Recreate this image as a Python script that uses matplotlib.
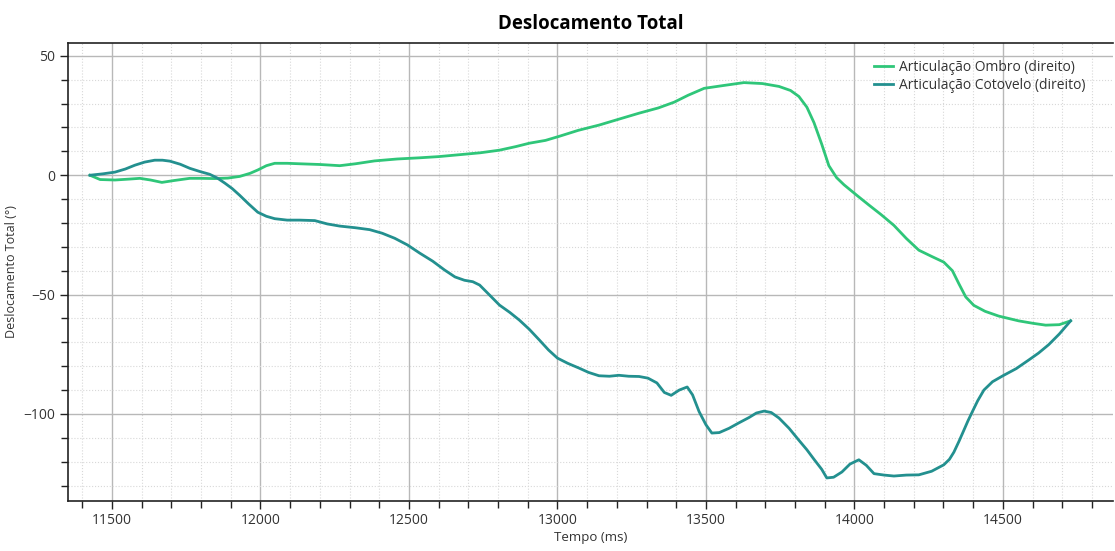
"""Deslocamento total das articulações (ombro e cotovelo direito) ao longo do tempo."""

import matplotlib

matplotlib.use("Agg")
import matplotlib.pyplot as plt
from matplotlib.ticker import MultipleLocator

plt.rcParams["font.family"] = ["Open Sans", "DejaVu Sans"]

ombro_t = [11426, 11460, 11510, 11560, 11594, 11630, 11668, 11710, 11762, 11800,
           11846, 11890, 11930, 11965, 11991, 12020, 12048, 12090, 12132, 12200,
           12267, 12320, 12384, 12460, 12536, 12600, 12670, 12740, 12805, 12860,
           12905, 12960, 13006, 13070, 13140, 13210, 13275, 13340, 13393, 13440,
           13494, 13560, 13628, 13690, 13746, 13785, 13813, 13840, 13864, 13890,
           13914, 13940, 13965, 14010, 14049, 14090, 14133, 14175, 14217, 14260,
           14301, 14330, 14352, 14375, 14402, 14440, 14486, 14553, 14600, 14644,
           14690, 14728]
ombro_v = [0.0, -1.8, -2.0, -1.6, -1.3, -2.0, -3.0, -2.2, -1.3, -1.3,
           -1.4, -1.2, -0.5, 0.8, 2.2, 4.0, 5.0, 5.0, 4.8, 4.5,
           4.0, 4.8, 6.0, 6.8, 7.3, 7.8, 8.6, 9.4, 10.5, 12.0,
           13.4, 14.6, 16.3, 18.8, 21.0, 23.6, 26.0, 28.2, 30.6, 33.5,
           36.4, 37.6, 38.8, 38.4, 37.2, 35.5, 33.0, 28.5, 22.0, 13.0,
           4.0, -1.0, -4.0, -8.6, -12.5, -16.5, -21.0, -26.5, -31.4, -34.0,
           -36.4, -40.0, -45.5, -51.0, -54.5, -57.0, -59.0, -61.0, -62.0, -62.8,
           -62.6, -61.0]

cotovelo_t = [11426, 11470, 11510, 11545, 11577, 11610, 11644, 11670, 11695, 11730,
              11762, 11795, 11829, 11855, 11880, 11905, 11930, 11960, 11991, 12020,
              12048, 12090, 12132, 12183, 12225, 12267, 12320, 12368, 12410, 12452,
              12495, 12536, 12580, 12620, 12655, 12687, 12715, 12738, 12770, 12805,
              12840, 12872, 12905, 12939, 12970, 13000, 13035, 13073, 13105, 13140,
              13175, 13207, 13240, 13275, 13305, 13335, 13360, 13383, 13410, 13437,
              13455, 13477, 13500, 13520, 13545, 13578, 13610, 13645, 13670, 13696,
              13720, 13746, 13780, 13813, 13840, 13864, 13890, 13907, 13930, 13958,
              13985, 14015, 14040, 14066, 14100, 14133, 14175, 14217, 14260, 14301,
              14320, 14335, 14352, 14369, 14382, 14395, 14415, 14436, 14465, 14500,
              14545, 14587, 14620, 14654, 14690, 14728]
cotovelo_v = [0.0, 0.6, 1.3, 2.6, 4.2, 5.5, 6.3, 6.3, 5.9, 4.6,
              2.9, 1.6, 0.4, -1.2, -3.3, -5.6, -8.4, -12.0, -15.5, -17.2,
              -18.2, -18.8, -18.8, -19.0, -20.4, -21.3, -22.0, -22.8, -24.3, -26.4,
              -29.2, -32.6, -36.0, -39.7, -42.6, -44.0, -44.6, -46.0, -50.0, -54.4,
              -57.5, -60.7, -64.5, -69.0, -73.2, -76.6, -78.8, -80.8, -82.6, -84.0,
              -84.2, -83.8, -84.2, -84.3, -85.0, -87.0, -91.0, -92.2, -90.0, -88.7,
              -92.0, -99.0, -104.5, -108.0, -107.8, -106.0, -103.8, -101.5, -99.6, -98.8,
              -99.4, -101.7, -106.0, -111.0, -115.0, -119.0, -123.2, -126.8, -126.5, -124.3,
              -121.0, -119.2, -121.5, -125.0, -125.6, -126.0, -125.6, -125.5, -124.0, -121.3,
              -119.0, -116.0, -111.5, -106.7, -103.0, -99.6, -94.5, -90.0, -86.5, -84.0,
              -81.0, -77.4, -74.5, -71.0, -66.5, -61.0]

COR_OMBRO = "#2fc679"
COR_COTOVELO = "#23908f"

fig = plt.figure(figsize=(11.15, 5.51), dpi=100)
ax = fig.add_axes([0.061, 0.091, 0.937, 0.831])

ax.plot(ombro_t, ombro_v, color=COR_OMBRO, linewidth=2.0, solid_joinstyle="round",
        label="Articulação Ombro (direito)")
ax.plot(cotovelo_t, cotovelo_v, color=COR_COTOVELO, linewidth=2.0, solid_joinstyle="round",
        label="Articulação Cotovelo (direito)")

ax.set_xlim(11352, 14870)
ax.set_ylim(-136.4, 55.4)
ax.xaxis.set_major_locator(MultipleLocator(500))
ax.xaxis.set_minor_locator(MultipleLocator(100))
ax.yaxis.set_major_locator(MultipleLocator(50))
ax.yaxis.set_minor_locator(MultipleLocator(10))

ax.grid(which="major", color="#b8b8b8", linewidth=1.0, linestyle="-")
ax.grid(which="minor", color="#d8d8d8", linewidth=0.8, linestyle=":")
ax.set_axisbelow(True)

for side in ("left", "bottom", "top"):
    ax.spines[side].set_color("#222222")
    ax.spines[side].set_linewidth(1.2)
ax.spines["right"].set_visible(False)

ax.tick_params(which="major", direction="out", length=6, width=1,
               color="#222222", labelsize=10, labelcolor="#333333", pad=3)
ax.tick_params(which="minor", direction="out", length=5, width=1, color="#222222")

ax.set_title("Deslocamento Total", fontsize=13.5, fontweight="bold", pad=10)
ax.set_xlabel("Tempo (ms)", fontsize=9.5, color="#333333", labelpad=2)
ax.set_ylabel("Deslocamento Total (°)", fontsize=9, color="#333333", labelpad=4)

leg = ax.legend(loc="upper right", bbox_to_anchor=(0.983, 0.985), frameon=False,
                fontsize=10, handlelength=1.4, handletextpad=0.4,
                labelspacing=0.25, borderaxespad=0.3)
for txt in leg.get_texts():
    txt.set_color("#333333")

fig.savefig("out.png", dpi=100)
plt.close(fig)
